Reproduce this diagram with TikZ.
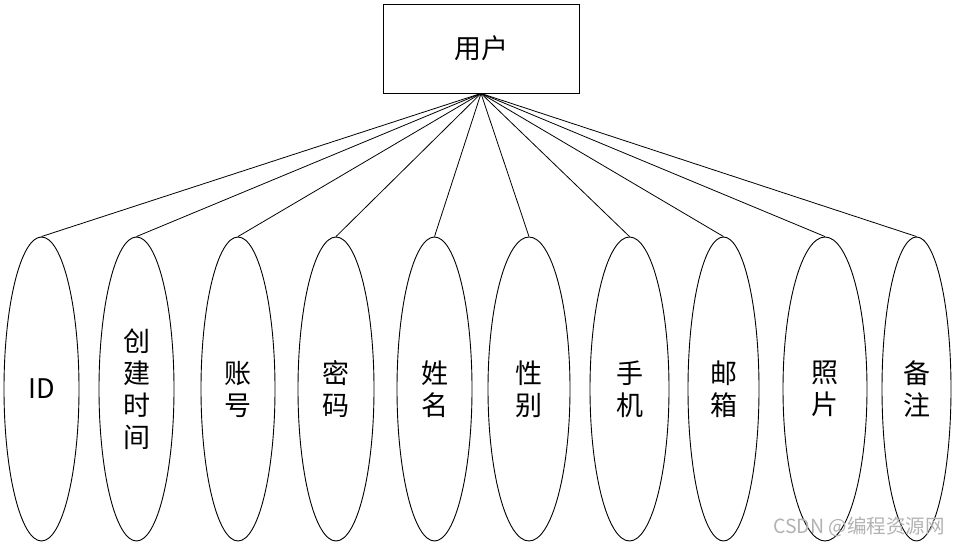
\documentclass[tikz,border=0pt]{standalone}
\usepackage{fontspec}
\setmainfont{Noto Sans CJK SC}
\usetikzlibrary{shapes.geometric, positioning}

\begin{document}
\begin{tikzpicture}[x=1pt, y=1pt,
    entity/.style={rectangle, draw=black, line width=0.9pt, minimum width=196pt, minimum height=89pt, inner sep=0pt, font=\fontsize{27pt}{32pt}\selectfont},
    attr/.style={ellipse, draw=black, line width=0.9pt, minimum width=75pt, minimum height=304pt, inner sep=0pt, align=center, font=\fontsize{27pt}{32pt}\selectfont},
    link/.style={line width=0.8pt}]
    \useasboundingbox (0,0) rectangle (958,546);

    \node[entity] (user) at (481,497.5) {用户};

    \node[attr] (id) at (41.5,157) {ID};
    \node[attr] (ctime) at (136.5,157) {创\\建\\时\\间};
    \node[attr, minimum width=74pt] (account) at (238,157) {账\\号};
    \node[attr, minimum width=76pt] (passwd) at (336,157) {密\\码};
    \node[attr] (name) at (434.5,157) {姓\\名};
    \node[attr, minimum width=82pt] (gender) at (529,157) {性\\别};
    \node[attr, minimum width=79pt] (phone) at (629.5,157) {手\\机};
    \node[attr, minimum width=71pt] (email) at (723.5,157) {邮\\箱};
    \node[attr, minimum width=84pt] (photo) at (825,157) {照\\片};
    \node[attr, minimum width=69pt] (remark) at (916.5,157) {备\\注};

    \draw[link] (user.south) -- (id.north);
    \draw[link] (user.south) -- (ctime.north);
    \draw[link] (user.south) -- (account.north);
    \draw[link] (user.south) -- (passwd.north);
    \draw[link] (user.south) -- (name.north);
    \draw[link] (user.south) -- (gender.north);
    \draw[link] (user.south) -- (phone.north);
    \draw[link] (user.south) -- (email.north);
    \draw[link] (user.south) -- (photo.north);
    \draw[link] (user.south) -- (remark.north);

    % watermark
    \node[text=black!30, font=\fontsize{19.5pt}{22pt}\selectfont] (mark) at (859,19) {CSDN @编程资源网};
\end{tikzpicture}
\end{document}
